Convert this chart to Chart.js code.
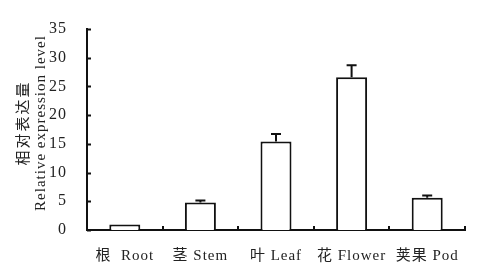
<!DOCTYPE html>
<html>
<head>
<meta charset="utf-8">
<script src="https://cdn.jsdelivr.net/npm/chart.js@4"></script>
<style>
  html, body { margin: 0; padding: 0; background: #fff; }
  #box { width: 489px; height: 272px; }
</style>
</head>
<body>
<div id="box"><canvas id="myChart"></canvas></div>
<script>
// datos
const categories = ['根  Root', '茎 Stem', '叶 Leaf', '花 Flower', '荚果 Pod'];
const expression = [0.95, 4.8, 15.4, 26.6, 5.6];
const errorUp = [0, 0.35, 1.3, 2.1, 0.4];
const yTicks = [0, 5, 10, 15, 20, 25, 30, 35];
const yTitle = ['相对表达量', 'Relative expression level'];

const serif = '"Liberation Serif", "Noto Sans CJK SC", serif';

// barras de error (solo hacia arriba), marcas hacia dentro y titulo del eje y
const extras = {
    id: 'extras',
    beforeDraw(chart) {
        chart.ctx.letterSpacing = '1px';
    },
    afterDatasetsDraw(chart) {
        const ctx = chart.ctx;
        const x = chart.scales.x, y = chart.scales.y;
        const meta = chart.getDatasetMeta(0);
        ctx.save();
        ctx.strokeStyle = '#111';
        ctx.lineWidth = 2;
        meta.data.forEach((bar, i) => {
            if (!errorUp[i]) return;
            const top = y.getPixelForValue(expression[i]);
            const cap = y.getPixelForValue(expression[i] + errorUp[i]);
            ctx.beginPath();
            ctx.moveTo(bar.x, top);
            ctx.lineTo(bar.x, cap);
            ctx.moveTo(bar.x - 5, cap);
            ctx.lineTo(bar.x + 5, cap);
            ctx.stroke();
        });
        // ticks del eje y
        const left = chart.chartArea.left;
        yTicks.forEach(v => {
            const py = Math.round(y.getPixelForValue(v)) + 0.5;
            ctx.beginPath();
            ctx.moveTo(left, py);
            ctx.lineTo(left + 4, py);
            ctx.stroke();
        });
        // ticks del eje x entre categorias
        const bottom = chart.chartArea.bottom;
        const step = x.getPixelForValue(1) - x.getPixelForValue(0);
        for (let i = 0; i < categories.length; i++) {
            const px = Math.round(x.getPixelForValue(i) + step / 2);
            ctx.beginPath();
            ctx.moveTo(px, bottom);
            ctx.lineTo(px, bottom - 4);
            ctx.stroke();
        }
        ctx.restore();
    },
    afterDraw(chart) {
        const ctx = chart.ctx;
        ctx.save();
        ctx.fillStyle = '#222';
        ctx.textAlign = 'center';
        ctx.textBaseline = 'middle';
        ctx.translate(0, 123);
        ctx.rotate(-Math.PI / 2);
        ctx.font = '15px ' + serif;
        ctx.letterSpacing = '2px';
        ctx.fillText(yTitle[0], 0, 24);
        ctx.letterSpacing = '1px';
        ctx.fillText(yTitle[1], 0, 41);
        ctx.restore();
        ctx.letterSpacing = '0px';
    }
};

const data = {
    labels: categories,
    datasets: [{
        data: expression,
        backgroundColor: '#fff',
        borderColor: '#111',
        borderWidth: 2,
        borderSkipped: 'bottom',
        barPercentage: 0.41,
        categoryPercentage: 1
    }]
};

const options = {
    responsive: false,
    animation: false,
    layout: { padding: { left: 0, right: 24, top: 29, bottom: 0 } },
    plugins: {
        legend: { display: false },
        tooltip: { enabled: false }
    },
    scales: {
        x: {
            grid: { display: false },
            border: { display: true, color: '#111', width: 2 },
            ticks: { color: '#222', font: { family: serif, size: 15 }, padding: 9, maxRotation: 0, autoSkip: false },
            afterFit(scale) { scale.height = 42; }
        },
        y: {
            min: 0,
            max: 35,
            grid: { display: false },
            border: { display: true, color: '#111', width: 2 },
            ticks: { stepSize: 5, color: '#222', font: { family: serif, size: 16 }, padding: 12 },
            afterFit(scale) { scale.width = 87; }
        }
    }
};

const canvas = document.getElementById('myChart');
canvas.width = 489;
canvas.height = 272;
const myChart = new Chart(canvas.getContext('2d'), {
    type: 'bar',
    data,
    options,
    plugins: [extras]
});
</script>
</body>
</html>
